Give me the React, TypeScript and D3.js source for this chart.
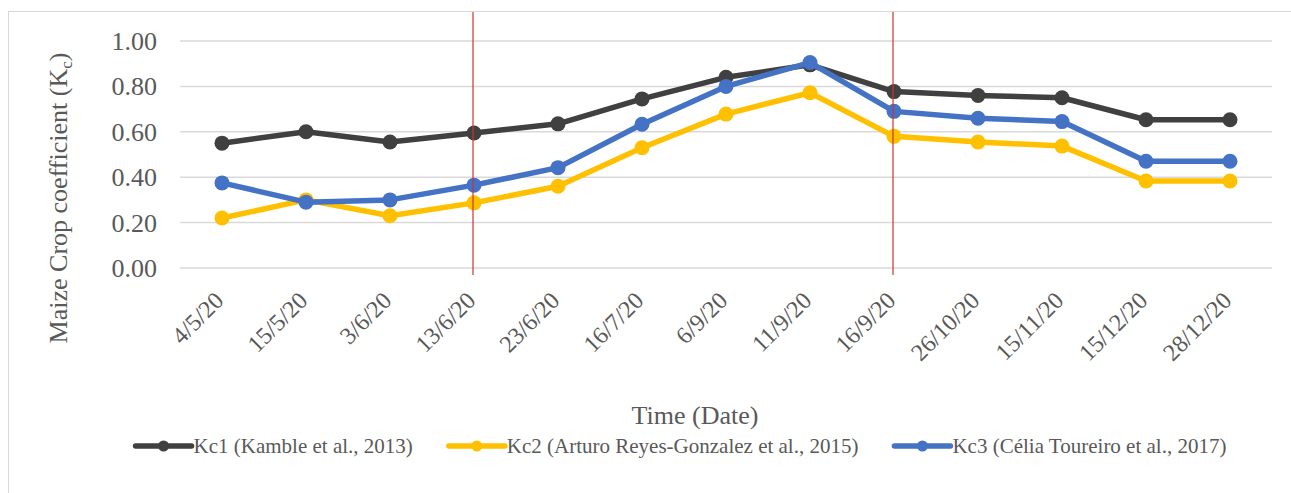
import { useEffect, useRef } from "react";
import * as d3 from "d3";

const dates = ["4/5/20", "15/5/20", "3/6/20", "13/6/20", "23/6/20", "16/7/20", "6/9/20", "11/9/20", "16/9/20", "26/10/20", "15/11/20", "15/12/20", "28/12/20"];
const kc1 = [0.55, 0.60, 0.555, 0.595, 0.635, 0.745, 0.84, 0.895, 0.777, 0.76, 0.75, 0.653, 0.653];
const kc2 = [0.22, 0.30, 0.23, 0.287, 0.36, 0.53, 0.678, 0.772, 0.58, 0.555, 0.537, 0.383, 0.383];
const kc3 = [0.375, 0.29, 0.30, 0.365, 0.442, 0.633, 0.80, 0.905, 0.69, 0.66, 0.645, 0.47, 0.47];
const yTicks = [0, 0.2, 0.4, 0.6, 0.8, 1.0];
const markerDates = ["13/6/20", "16/9/20"];

const series = [
    { name: "Kc1 (Kamble et al., 2013)", values: kc1, color: "#404040" },
    { name: "Kc2 (Arturo Reyes-Gonzalez et al., 2015)", values: kc2, color: "#FFC000" },
    { name: "Kc3 (Célia Toureiro et al., 2017)", values: kc3, color: "#4472C4" },
];

export default function App() {
    const ref = useRef<SVGSVGElement>(null);

    useEffect(() => {
        const width = 1291;
        const height = 493;
        const font = "'Liberation Serif', 'Times New Roman', serif";
        const textColor = "#595959";

        const svg = d3.select(ref.current)
            .attr("width", width)
            .attr("height", height);

        svg.selectAll("*").remove();

        // outer chart frame
        svg.append("rect")
            .attr("x", 8.5).attr("y", 11.5)
            .attr("width", 1300).attr("height", 500)
            .attr("fill", "#fff")
            .attr("stroke", "#d9d9d9");

        const x = d3.scaleBand()
            .domain(dates)
            .range([180, 1272]);

        const y = d3.scaleLinear()
            .domain([0, 1])
            .range([268, 41]);

        const cx = (d: string) => (x(d) as number) + x.bandwidth() / 2;

        // gridlines
        svg.append("g")
            .selectAll("line")
            .data(yTicks)
            .join("line")
            .attr("x1", 180).attr("x2", 1272)
            .attr("y1", d => y(d)).attr("y2", d => y(d))
            .attr("stroke", "#d9d9d9")
            .attr("stroke-width", 1.5);

        // y tick labels
        svg.append("g")
            .selectAll("text")
            .data(yTicks)
            .join("text")
            .attr("x", 157)
            .attr("y", d => y(d) + 9)
            .attr("text-anchor", "end")
            .attr("font-family", font)
            .attr("font-size", 26)
            .attr("fill", textColor)
            .text(d => d3.format(".2f")(d));

        // x tick labels
        svg.append("g")
            .selectAll("text")
            .data(dates)
            .join("text")
            .attr("transform", d => `translate(${cx(d) + 3},302) rotate(-45)`)
            .attr("text-anchor", "end")
            .attr("font-family", font)
            .attr("font-size", 24)
            .attr("fill", textColor)
            .text(d => d);

        const line = d3.line<number>()
            .x((_, i) => cx(dates[i]))
            .y(d => y(d));

        series.forEach(s => {
            const g = svg.append("g");
            g.append("path")
                .datum(s.values)
                .attr("d", line)
                .attr("fill", "none")
                .attr("stroke", s.color)
                .attr("stroke-width", 5.5)
                .attr("stroke-linejoin", "round");
            g.selectAll("circle")
                .data(s.values)
                .join("circle")
                .attr("cx", (_, i) => cx(dates[i]))
                .attr("cy", d => y(d))
                .attr("r", 7.5)
                .attr("fill", s.color);
        });

        // red stage markers, drawn over the series
        svg.append("g")
            .selectAll("line")
            .data(markerDates)
            .join("line")
            .attr("x1", d => cx(d) - 1).attr("x2", d => cx(d) - 1)
            .attr("y1", 12).attr("y2", 275)
            .attr("stroke", "#CC3333")
            .attr("stroke-width", 1.2);

        // axis titles
        const yTitle = svg.append("text")
            .attr("transform", "translate(67,198) rotate(-90)")
            .attr("text-anchor", "middle")
            .attr("font-family", font)
            .attr("font-size", 26)
            .attr("fill", textColor);
        yTitle.append("tspan").text("Maize Crop coefficient (K");
        yTitle.append("tspan").attr("font-size", 17).attr("dy", 5).text("c");
        yTitle.append("tspan").attr("dy", -5).text(")");

        svg.append("text")
            .attr("x", 695)
            .attr("y", 424)
            .attr("text-anchor", "middle")
            .attr("font-family", font)
            .attr("font-size", 26)
            .attr("fill", textColor)
            .text("Time (Date)");

        // legend
        const legend = svg.append("g");
        const items = series.map(s => {
            const g = legend.append("g");
            g.append("line")
                .attr("x1", 0).attr("x2", 56)
                .attr("y1", 0).attr("y2", 0)
                .attr("stroke", s.color)
                .attr("stroke-width", 5.5)
                .attr("stroke-linecap", "round");
            g.append("circle")
                .attr("cx", 28).attr("cy", 0).attr("r", 5.5)
                .attr("fill", s.color);
            const t = g.append("text")
                .attr("x", 58)
                .attr("y", 7)
                .attr("font-family", font)
                .attr("font-size", 21)
                .attr("fill", textColor)
                .text(s.name);
            const w = 58 + (t.node() as SVGTextElement).getComputedTextLength();
            return { g, w };
        });
        const gap = 36;
        const total = d3.sum(items, d => d.w) + gap * (items.length - 1);
        let lx = 681 - total / 2;
        items.forEach(it => {
            it.g.attr("transform", `translate(${lx},446)`);
            lx += it.w + gap;
        });
    }, []);

    return <svg ref={ref} style={{ position: "absolute", left: 0, top: 0, display: "block" }}></svg>;
}
